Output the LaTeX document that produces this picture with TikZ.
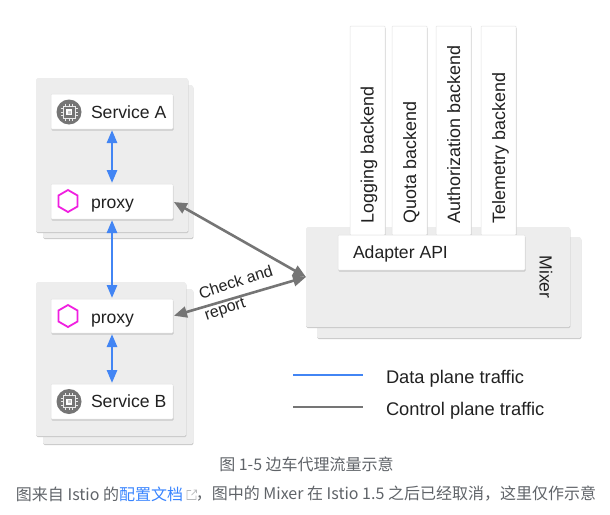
\documentclass[tikz,border=0pt]{standalone}
\usepackage{fontspec}
\setmainfont{Liberation Sans}
\newfontfamily\cjk{Noto Sans CJK SC}
\usetikzlibrary{arrows.meta,shapes.geometric,shadows}
\definecolor{panel}{HTML}{EDEDED}
\definecolor{shade}{HTML}{C8C8C8}
\definecolor{edgec}{HTML}{E2E2E2}
\definecolor{blueline}{HTML}{4285F4}
\definecolor{grayline}{HTML}{757575}
\definecolor{ink}{HTML}{212121}
\definecolor{cap}{HTML}{5F6368}
\definecolor{linkc}{HTML}{3884FF}
\definecolor{hexc}{HTML}{F01FE0}
\tikzset{
  x=1pt,y=-1pt,
  every node/.style={inner sep=0pt,outer sep=0pt,text=ink},
  panelbox/.style={draw=none,fill=panel,rounded corners=1.5pt,general shadow={shadow xshift=0.4pt,shadow yshift=-1.2pt,fill=shade,rounded corners=1.5pt}},
  whitebox/.style={draw=edgec,line width=0.5pt,fill=white,rounded corners=0.8pt,general shadow={shadow xshift=0.5pt,shadow yshift=-1.5pt,fill=shade,rounded corners=0.8pt}},
  lab/.style={font=\fontsize{17.6}{20}\selectfont},
  leglab/.style={font=\fontsize{18.3}{20}\selectfont},
  bluearrow/.style={draw=blueline,line width=2.7pt,{Triangle[length=13pt,width=10pt]}-{Triangle[length=13pt,width=10pt]},shorten <=1pt,shorten >=1pt},
  grayarrow/.style={draw=grayline,line width=2.6pt,{Triangle[length=13pt,width=11pt]}-{Triangle[length=13pt,width=11pt]},shorten <=1pt,shorten >=0pt},
  hexa/.style={regular polygon,regular polygon sides=6,shape border rotate=90,draw=hexc,line width=1.8pt,minimum size=22pt,fill=white},
  chipdisc/.style={circle,fill=grayline,minimum size=25pt},
  capt/.style={text=cap,font=\cjk\fontsize{16}{18}\selectfont}
}
\newcommand{\chipat}[3]{%
  \node[chipdisc] (#3) at (#1,#2) {};
  \draw[white!85!grayline,line width=0.8pt] (#1-6,#2-6) rectangle (#1+6,#2+6);
  \fill[white] (#1-3,#2-3) rectangle (#1+3,#2+3);
  \fill[grayline!40!white] (#1-1.5,#2-1.5) rectangle (#1+1.5,#2+1.5);
  \foreach \d in {-3.5,0,3.5}{
    \draw[white!85!grayline,line width=0.7pt] (#1+\d,#2-8.5) -- (#1+\d,#2-6) (#1+\d,#2+6) -- (#1+\d,#2+8.5)
      (#1-8.5,#2+\d) -- (#1-6,#2+\d) (#1+6,#2+\d) -- (#1+8.5,#2+\d);
  }}
\begin{document}
\begin{tikzpicture}
\useasboundingbox (0,0) rectangle (610,514);
% service panels
\path[panelbox] (43,85) rectangle (193,238);
\path[panelbox] (36,78) rectangle (188,232);
\path[panelbox] (43,289) rectangle (193,444);
\path[panelbox] (36,282) rectangle (186,436);
% mixer
\path[panelbox] (317,237) rectangle (581,338);
\node[panelbox,minimum width=264pt,minimum height=100pt,anchor=north west] (mixer) at (306,227) {};
% backends
\node[whitebox,minimum width=35pt,minimum height=209pt,anchor=north west] (logb) at (350,26) {};
\node[whitebox,minimum width=35pt,minimum height=209pt,anchor=north west] (quob) at (392,26) {};
\node[whitebox,minimum width=35pt,minimum height=209pt,anchor=north west] (autb) at (436,26) {};
\node[whitebox,minimum width=35pt,minimum height=209pt,anchor=north west] (telb) at (481,26) {};
\node[font=\fontsize{17.9}{20}\selectfont,rotate=90,anchor=base west] (logt) at (373.5,223) {Logging backend};
\node[font=\fontsize{17.9}{20}\selectfont,rotate=90,anchor=base west] (quot) at (416,223) {Quota backend};
\node[font=\fontsize{17.9}{20}\selectfont,rotate=90,anchor=base west] (autt) at (460,223) {Authorization backend};
\node[font=\fontsize{17.9}{20}\selectfont,rotate=90,anchor=base west] (telt) at (505,223) {Telemetry backend};
\node[whitebox,minimum width=187pt,minimum height=35pt,anchor=north west] (adapter) at (338,235) {};
\node[lab,anchor=base west] (adaptert) at (353,258) {Adapter API};
\node[lab,rotate=-90,anchor=base] (mixert) at (539.5,277) {Mixer};
% service and proxy boxes
\node[whitebox,minimum width=122pt,minimum height=35pt,anchor=north west] (sa) at (51,94) {};
\node[whitebox,minimum width=122pt,minimum height=35pt,anchor=north west] (pa) at (51,184) {};
\node[whitebox,minimum width=122pt,minimum height=34pt,anchor=north west] (pb) at (51,299) {};
\node[whitebox,minimum width=122pt,minimum height=35pt,anchor=north west] (sb) at (51,384) {};
\chipat{69}{112}{chipa}
\chipat{69}{401.5}{chipb}
\node[hexa] (hexa) at (68,201) {};
\node[hexa] (hexb) at (68,316) {};
\node[lab,anchor=base west] (sat) at (91,118) {Service A};
\node[lab,anchor=base west] (pat) at (91,208) {proxy};
\node[lab,anchor=base west] (pbt) at (91,323) {proxy};
\node[lab,anchor=base west] (sbt) at (91,407) {Service B};
% connectors
\draw[bluearrow] (sa.south) -- (pa.north);
\draw[bluearrow] (pa.south) -- (pb.north);
\draw[bluearrow] (pb.south) -- (sb.north);
\draw[grayarrow] (pa.east) -- (mixer.west);
\draw[grayarrow] (pb.east) -- (mixer.west);
\node[rotate=18,anchor=base west,font=\fontsize{16}{16}\selectfont] (checkl) at (201,299) {Check and};
\node[rotate=18,anchor=base west,font=\fontsize{16}{16}\selectfont] (reportl) at (206.5,320) {report};
% legend
\coordinate (la) at (293,375); \coordinate (lb) at (363,375);
\coordinate (lc) at (293,407); \coordinate (ld) at (363,407);
\draw[draw=blueline,line width=2.4pt] (la) -- (lb);
\draw[draw=grayline,line width=2.4pt] (lc) -- (ld);
\node[leglab,anchor=base west] (lt1) at (386,383) {Data plane traffic};
\node[leglab,anchor=base west] (lt2) at (386,415) {Control plane traffic};
% captions
\node[capt] (c1) at (306.5,464) {图 1-5 边车代理流量示意};
\node[capt,anchor=west] (c2) at (16,494) {图来自 Istio 的\textcolor{linkc}{配置文档}};
\draw[cap!45!white,line width=0.7pt] (191,490.5) -- (187,490.5) -- (187,499.5) -- (196,499.5) -- (196,495.5) (191.5,495) -- (196.5,490) (193.5,490) -- (196.5,490) -- (196.5,493);
\node[capt,anchor=east] (c3) at (596,494) {，图中的 Mixer 在 Istio 1.5 之后已经取消，这里仅作示意};
\end{tikzpicture}
\end{document}
